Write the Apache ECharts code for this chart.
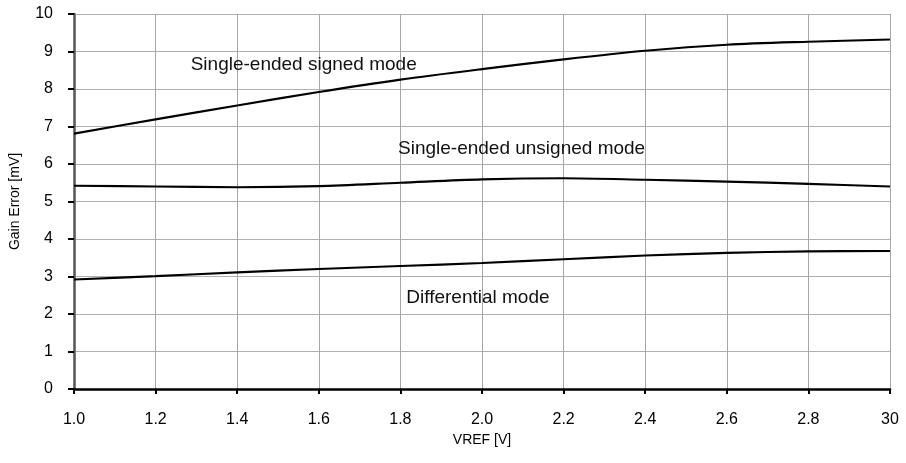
<!DOCTYPE html>
<html>
<head>
<meta charset="utf-8">
<script src="https://cdn.jsdelivr.net/npm/echarts@6/dist/echarts.min.js"></script>
<style>html,body{margin:0;padding:0;background:#fff}#c{width:906px;height:463px}</style>
</head>
<body>
<div id="c"></div>
<script>
const vref = [1.0, 1.2, 1.4, 1.6, 1.8, 2.0, 2.2, 2.4, 2.6, 2.8, 3.0];
const xTickLabels = ['1.0','1.2','1.4','1.6','1.8','2.0','2.2','2.4','2.6','2.8','30'];
const signedMode = [6.81, 7.19, 7.56, 7.92, 8.25, 8.53, 8.79, 9.02, 9.18, 9.26, 9.32];
const unsignedMode = [5.42, 5.40, 5.38, 5.41, 5.50, 5.59, 5.62, 5.58, 5.53, 5.47, 5.40];
const differentialMode = [2.92, 3.01, 3.11, 3.20, 3.28, 3.36, 3.46, 3.56, 3.63, 3.67, 3.68];
const seriesNames = ['Single-ended signed mode', 'Single-ended unsigned mode', 'Differential mode'];

const annotationPos = [[1.563, 8.64], [2.097, 6.40], [1.99, 2.44]];

const font = 'Arial, "Liberation Sans", sans-serif';
const chart = echarts.init(document.getElementById('c'), null, {renderer: 'canvas'});
const allData = [signedMode, unsignedMode, differentialMode];

chart.setOption({
  animation: false,
  backgroundColor: '#fff',
  grid: {left: 73, right: 16, top: 14, bottom: 74, containLabel: false},
  xAxis: {
    type: 'value', min: 1, max: 3, interval: 0.2,
    name: 'VREF [V]', nameLocation: 'middle', nameGap: 41,
    nameTextStyle: {fontFamily: font, fontSize: 14, color: '#000'},
    axisLine: {show: true, onZero: false, lineStyle: {color: '#000', width: 2.5}},
    axisTick: {show: true, length: 5, lineStyle: {color: '#000', width: 2}},
    axisLabel: {margin: 23, fontFamily: font, fontSize: 16, color: '#000',
      formatter: v => xTickLabels[Math.round((v - 1) / 0.2)]},
    splitLine: {show: true, lineStyle: {color: '#a6a6a6', width: 1}}
  },
  yAxis: {
    type: 'value', min: 0, max: 10, interval: 1,
    name: 'Gain Error [mV]', nameLocation: 'middle', nameGap: 52,
    nameTextStyle: {fontFamily: font, fontSize: 14, color: '#000'},
    axisLine: {show: true, lineStyle: {color: '#555', width: 2.5}},
    axisTick: {show: true, length: 6, lineStyle: {color: '#000', width: 2}},
    axisLabel: {margin: 21, fontFamily: font, fontSize: 16, color: '#000'},
    splitLine: {show: true, lineStyle: {color: '#b0b0b0', width: 1}}
  },
  series: allData.map((arr, i) => ({
    name: seriesNames[i],
    type: 'line',
    smooth: 0.3,
    symbol: 'none',
    lineStyle: {color: '#000', width: 2.2},
    data: vref.map((x, j) => [x, arr[j]]),
    markPoint: {
      symbol: 'circle', symbolSize: 0,
      label: {show: true, position: 'inside', color: '#111', fontFamily: font, fontSize: 19,
        formatter: seriesNames[i]},
      data: [{coord: annotationPos[i], value: seriesNames[i]}]
    }
  }))
});
</script>
</body>
</html>
